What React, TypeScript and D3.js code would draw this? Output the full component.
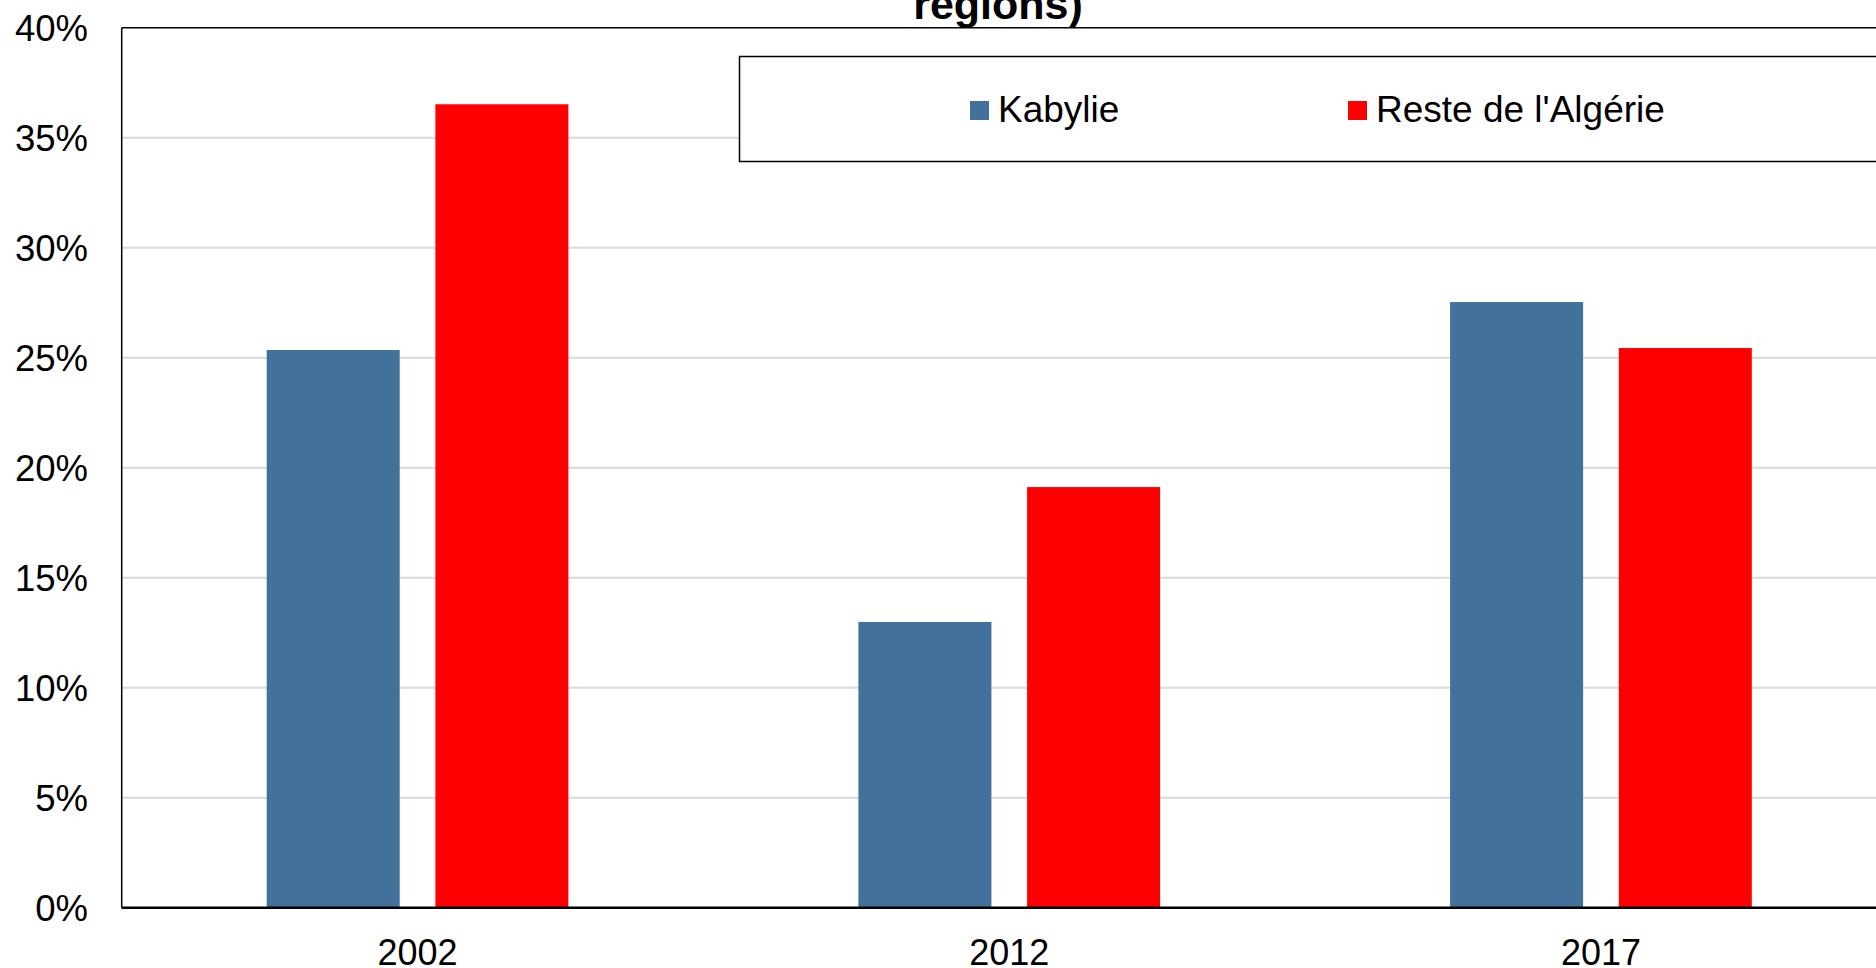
import React from "react";
import * as d3 from "d3";

const years = ["2002", "2012", "2017"];
const seriesNames = ["Kabylie", "Reste de l'Algérie"];
const kabylie = [25.35, 12.99, 27.53];
const resteAlgerie = [36.52, 19.12, 25.44];
const yTicks = [0, 5, 10, 15, 20, 25, 30, 35, 40];
const titleLine = "regions)";
const colors = ["#42719C", "#FF0000"];

const W = 1876;
const H = 968;
const FONT = "Liberation Sans, Arial, sans-serif";

export default function App() {
  const left = 121.7;
  const right = 1896.8;
  const top = 27.7;
  const bottom = 907.7;

  const x = d3.scaleBand<string>().domain(years).range([left, right]).paddingInner(0).paddingOuter(0);
  const bw = x.bandwidth();
  const xs = d3.scaleBand<string>().domain(seriesNames).range([145, bw - 145]).paddingInner(0.2116).paddingOuter(0);
  const y = d3.scaleLinear().domain([0, 40]).range([bottom, top]);
  const values = [kabylie, resteAlgerie];

  return (
    <svg width={W} height={H} style={{ position: "absolute", left: 0, top: 0, display: "block", background: "#fff" }}>
      <rect x={0} y={0} width={W} height={H} fill="#fff" />
      {/* gridlines */}
      {yTicks.filter((t) => t > 0 && t < 40).map((t) => (
        <line key={"g" + t} x1={left} x2={right} y1={y(t)} y2={y(t)} stroke="#D9D9D9" strokeWidth={2} />
      ))}
      {/* bars */}
      {seriesNames.map((s, si) =>
        years.map((yr, i) => (
          <rect
            key={s + yr}
            x={(x(yr) as number) + (xs(s) as number)}
            y={y(values[si][i])}
            width={xs.bandwidth()}
            height={bottom - y(values[si][i])}
            fill={colors[si]}
          />
        ))
      )}
      {/* plot border */}
      <line x1={left} x2={right} y1={top} y2={top} stroke="#000" strokeWidth={1.5} />
      <line x1={left} x2={left} y1={top} y2={bottom} stroke="#000" strokeWidth={1.5} />
      <line x1={left} x2={right} y1={bottom} y2={bottom} stroke="#000" strokeWidth={2.5} />
      {/* y tick labels */}
      {yTicks.map((t) => (
        <text key={"t" + t} x={88} y={y(t)} dy="0.36em" textAnchor="end" fontFamily={FONT} fontSize={36.5} fill="#000">
          {t + "%"}
        </text>
      ))}
      {/* x labels */}
      {years.map((yr) => (
        <text key={"x" + yr} x={(x(yr) as number) + bw / 2} y={965} textAnchor="middle" fontFamily={FONT} fontSize={36} fill="#000">
          {yr}
        </text>
      ))}
      {/* title */}
      <text x={998} y={19} textAnchor="middle" fontFamily={FONT} fontSize={43} fontWeight="bold" fill="#000">
        {titleLine}
      </text>
      {/* legend */}
      <rect x={739.5} y={56.5} width={1200} height={105} fill="#fff" stroke="#000" strokeWidth={1.5} />
      {seriesNames.map((s, si) => {
        const lx = si === 0 ? 970 : 1348;
        return (
          <g key={"l" + s}>
            <rect x={lx} y={101} width={19} height={19} fill={colors[si]} />
            <text x={lx + 28} y={121.7} fontFamily={FONT} fontSize={37} fill="#000">
              {s}
            </text>
          </g>
        );
      })}
    </svg>
  );
}
